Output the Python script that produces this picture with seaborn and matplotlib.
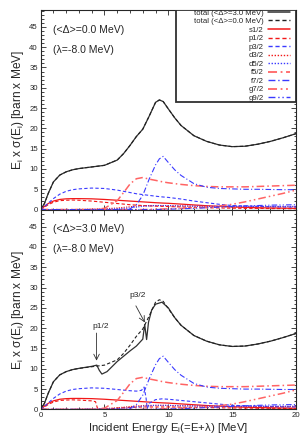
import matplotlib
matplotlib.use("Agg")
import matplotlib.pyplot as plt
from matplotlib.lines import Line2D
from matplotlib.patches import Rectangle
from matplotlib.ticker import MultipleLocator
import seaborn as sns

# ---------------- data ----------------
# common energy grid (MeV) for the smooth curves
E = [0, 0.3, 0.6, 1, 1.5, 2, 2.5, 3, 4, 5, 6, 6.5, 7, 7.5, 8, 8.5, 9, 9.3, 9.6,
     10, 10.5, 11, 12, 13, 14, 15, 16, 17, 18, 19, 20]

total_d0 = [0, 1.5, 4.0, 6.8, 8.5, 9.3, 9.8, 10.1, 10.5, 10.9, 12.2, 13.8, 15.8,
            18.0, 19.8, 23.0, 26.4, 27.0, 26.6, 24.8, 22.6, 20.7, 18.2, 16.8,
            15.9, 15.5, 15.6, 16.1, 16.8, 17.7, 18.7]
s12 = [0, 0.8, 1.5, 2.1, 2.5, 2.65, 2.7, 2.7, 2.65, 2.5, 2.3, 2.2, 2.1, 2.0, 1.9,
       1.8, 1.7, 1.65, 1.6, 1.55, 1.45, 1.35, 1.15, 0.95, 0.8, 0.65, 0.55, 0.45,
       0.4, 0.35, 0.3]
p12 = [0, 0.6, 1.2, 1.8, 2.2, 2.3, 2.35, 2.3, 2.1, 1.8, 1.5, 1.35, 1.2, 1.1, 1.0,
       0.9, 0.85, 0.8, 0.8, 0.75, 0.7, 0.65, 0.55, 0.45, 0.4, 0.35, 0.3, 0.3,
       0.25, 0.25, 0.2]
p32 = [0, 0.7, 1.6, 2.7, 3.8, 4.5, 4.9, 5.1, 5.3, 5.2, 4.8, 4.5, 4.2, 3.9, 3.7,
       3.5, 3.3, 3.2, 3.1, 3.0, 2.8, 2.6, 2.1, 1.7, 1.3, 1.0, 0.9, 0.8, 0.7,
       0.65, 0.6]
d32 = [0, 0, 0, 0, 0, 0, 0, 0.05, 0.1, 0.2, 0.4, 0.55, 0.7, 0.85, 0.95, 1.0, 1.0,
       1.0, 1.0, 0.95, 0.9, 0.9, 0.85, 0.8, 0.75, 0.7, 0.7, 0.7, 0.7, 0.7, 0.7]
d52 = [0, 0, 0, 0, 0, 0, 0, 0, 0.05, 0.1, 0.2, 0.3, 0.4, 0.6, 0.8, 0.9, 1.0, 1.0,
       1.0, 1.0, 0.95, 0.9, 0.85, 0.8, 0.8, 0.8, 0.8, 0.8, 0.8, 0.8, 0.8]
f52 = [0, 0, 0, 0, 0, 0, 0, 0, 0.02, 0.3, 2.2, 4.2, 6.3, 7.6, 7.9, 7.5, 7.2, 7.0,
       6.8, 6.6, 6.4, 6.2, 5.9, 5.7, 5.6, 5.6, 5.6, 5.7, 5.8, 5.9, 6.0]
f72 = [0, 0, 0, 0, 0, 0, 0, 0, 0, 0, 0, 0.05, 0.2, 1.2, 3.5, 7.5, 11.0, 12.5,
       13.1, 11.6, 9.8, 8.4, 6.4, 5.5, 5.2, 5.1, 5.0, 5.0, 4.95, 4.9, 4.9]
g72 = [0, 0, 0, 0, 0, 0, 0, 0, 0, 0, 0, 0, 0, 0, 0, 0.05, 0.1, 0.1, 0.15, 0.2,
       0.25, 0.3, 0.45, 0.6, 0.9, 1.3, 1.9, 2.6, 3.3, 4.0, 4.8]
g92 = [0, 0, 0, 0, 0, 0, 0, 0, 0, 0, 0, 0, 0, 0, 0, 0, 0.05, 0.05, 0.05, 0.1,
       0.15, 0.2, 0.3, 0.45, 0.6, 0.75, 0.9, 1.0, 1.1, 1.15, 1.2]

# <Delta> = 3 MeV curves that differ from the <Delta> = 0 ones
E_tot3 = [0, 0.3, 0.6, 1, 1.5, 2, 2.5, 3, 4, 4.4, 4.6, 4.8, 5.2, 6, 7, 7.5, 8,
          8.15, 8.3, 8.45, 8.7, 9, 9.5, 10, 10.5, 11, 12, 13, 14, 15, 16, 17,
          18, 19, 20]
total_d3 = [0, 1.5, 4.0, 6.8, 8.5, 9.3, 9.8, 10.1, 10.6, 10.9, 9.6, 8.7, 9.3,
            11.8, 14.4, 15.6, 17.3, 20.9, 17.2, 21.5, 24.5, 25.9, 26.4, 25.0,
            22.6, 20.7, 18.2, 16.8, 15.9, 15.5, 15.6, 16.1, 16.8, 17.7, 18.7]
E_p12_3 = [0, 0.3, 0.6, 1, 1.5, 2, 2.5, 3, 4, 4.3, 4.45, 4.6, 5, 6, 7, 8, 10, 12,
           15, 20]
p12_d3 = [0, 0.6, 1.2, 1.8, 2.2, 2.3, 2.35, 2.3, 2.1, 1.9, 0.3, 0.05, 0.1, 0.3,
          0.5, 0.6, 0.6, 0.5, 0.35, 0.2]
E_p32_3 = [0, 0.3, 0.6, 1, 1.5, 2, 2.5, 3, 4, 5, 6, 7, 7.5, 7.9, 8.1, 8.25, 8.35,
           8.5, 9, 9.5, 10, 11, 12, 13, 14, 15, 16, 17, 18, 19, 20]
p32_d3 = [0, 0.7, 1.6, 2.7, 3.8, 4.5, 4.9, 5.1, 5.3, 5.2, 4.9, 4.6, 4.5, 4.7,
          5.5, 3.0, 0.2, 1.5, 2.4, 2.6, 2.5, 2.2, 1.9, 1.6, 1.3, 1.0, 0.9, 0.8,
          0.7, 0.65, 0.6]

labels = ["s1/2", "p1/2", "p3/2", "d3/2", "d5/2", "f5/2", "f7/2", "g7/2", "g9/2"]

# ---------------- styling ----------------
sns.set_style("ticks")
plt.rcParams["font.family"] = ["Liberation Sans", "DejaVu Sans"]
plt.rcParams["mathtext.default"] = "regular"

RED = "#f21818"
PINK = "#ff6464"
BLUE = "#3a3aff"
DASH = (0, (3, 2))
DOT = (0, (1, 1.2))
DDOT = (0, (5, 2, 1, 2))
DDDOT = (0, (5, 2, 1, 2, 1, 2))

styles = [
    (RED, "-", 0.9),
    (RED, DASH, 0.8),
    (BLUE, DASH, 0.8),
    (RED, DOT, 0.8),
    (BLUE, DOT, 0.8),
    (PINK, DDOT, 1.1),
    (BLUE, DDOT, 0.8),
    (PINK, DDDOT, 1.1),
    (BLUE, DDDOT, 0.8),
]
tot_styles = [("#303030", "-", 0.9), ("#202020", DASH, 0.8)]
tot_labels = ["total (<Δ>=3.0 MeV)", "total (<Δ>=0.0 MeV)"]

fig = plt.figure(figsize=(3.03, 4.45), dpi=100)
ax1 = fig.add_axes([0.134, 0.529, 0.843, 0.449])
ax2 = fig.add_axes([0.134, 0.080, 0.843, 0.449])


def draw(ax, comps, top):
    tot3_x, tot3_y = (E, total_d0) if top else (E_tot3, total_d3)
    for (xs, ys), (c, ls, lw) in zip([(tot3_x, tot3_y), (E, total_d0)],
                                     tot_styles):
        sns.lineplot(x=xs, y=ys, ax=ax, color=c, linestyle=ls, lw=lw,
                     legend=False)
    for (xs, ys), (c, ls, lw) in zip(comps, styles):
        sns.lineplot(x=xs, y=ys, ax=ax, color=c, linestyle=ls, lw=lw,
                     legend=False)
    ax.set_xlim(0, 20)
    ax.set_ylim(0, 49.2)
    ax.xaxis.set_major_locator(MultipleLocator(5))
    ax.xaxis.set_minor_locator(MultipleLocator(1))
    ax.yaxis.set_major_locator(MultipleLocator(5))
    ax.yaxis.set_minor_locator(MultipleLocator(1))
    ax.tick_params(which="both", direction="in", top=True, right=True,
                   labelsize=5.6, pad=2, width=0.6)
    ax.tick_params(which="major", length=3.5)
    ax.tick_params(which="minor", length=1.8)
    for sp in ax.spines.values():
        sp.set_linewidth(0.8)
    ax.set_ylabel("E$_\\mathregular{i}$ x σ(E$_\\mathregular{i}$) [barn x MeV]",
                  fontsize=8.6, labelpad=2)


comps0 = [(E, s12), (E, p12), (E, p32), (E, d32), (E, d52),
          (E, f52), (E, f72), (E, g72), (E, g92)]
comps3 = [(E, s12), (E_p12_3, p12_d3), (E_p32_3, p32_d3), (E, d32), (E, d52),
          (E, f52), (E, f72), (E, g72), (E, g92)]

draw(ax1, comps0, True)
draw(ax2, comps3, False)

ax1.tick_params(labelbottom=False)
ax1.set_xlabel("")
ax2.set_xlabel("Incident Energy E$_\\mathregular{i}$(=E+λ) [MeV]", fontsize=8.2,
               labelpad=1)

ax1.text(0.95, 44.2, "(<Δ>=0.0 MeV)", fontsize=7.6, va="center")
ax1.text(0.95, 39.2, "(λ=-8.0 MeV)", fontsize=7.6, va="center")
ax2.text(0.95, 44.3, "(<Δ>=3.0 MeV)", fontsize=7.6, va="center")
ax2.text(0.95, 39.4, "(λ=-8.0 MeV)", fontsize=7.6, va="center")

arrow = dict(arrowstyle="->", lw=0.6, color="#303030", shrinkA=0, shrinkB=0)
ax2.text(4.7, 20.3, "p1/2", fontsize=6.0, ha="center", va="center")
ax2.annotate("", xy=(4.38, 12.0), xytext=(4.38, 18.8), arrowprops=arrow)
ax2.text(7.6, 28.0, "p3/2", fontsize=6.0, ha="center", va="center")
ax2.annotate("", xy=(8.16, 21.4), xytext=(7.46, 25.5), arrowprops=arrow)

# legend box (gnuplot style, wider than its contents)
ax1.add_patch(Rectangle((0.529, 0.540), 0.471, 0.46, transform=ax1.transAxes,
                        facecolor="white", edgecolor="#303030", lw=1.3,
                        zorder=4))
handles = [Line2D([], [], color=c, linestyle=ls, lw=lw + 0.2)
           for c, ls, lw in tot_styles + styles]
leg = ax1.legend(handles=handles, labels=tot_labels + labels,
                 loc="upper right", bbox_to_anchor=(0.978, 1.003),
                 borderaxespad=0, borderpad=0, markerfirst=False,
                 fontsize=5.6, labelspacing=0.14, handlelength=2.9,
                 handletextpad=0.5, frameon=False)
leg.set_zorder(5)

fig.savefig("out.png", dpi=100)
